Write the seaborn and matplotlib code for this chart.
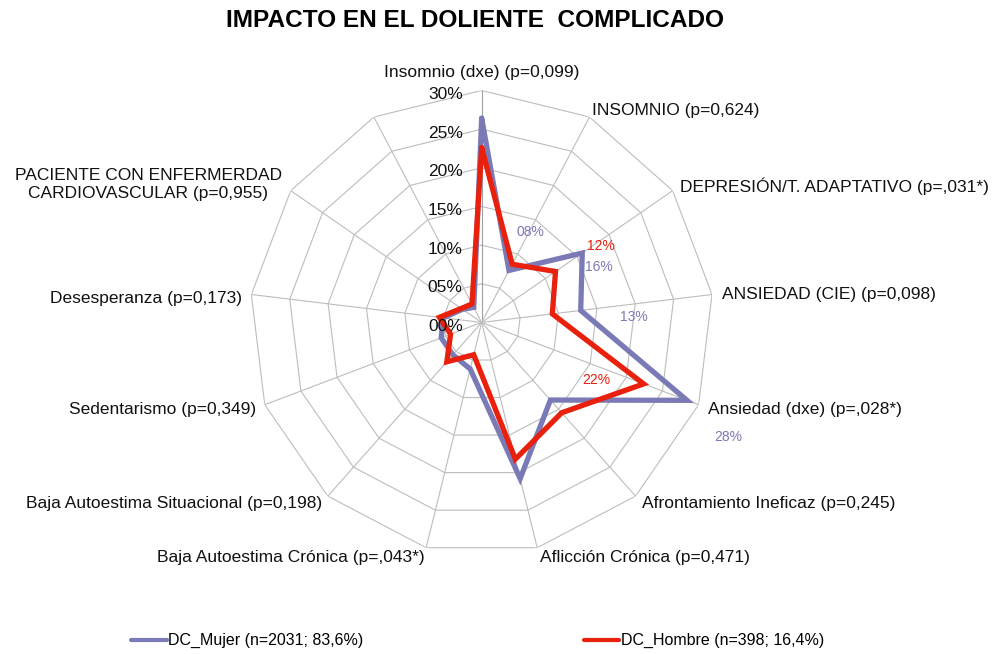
# Radar: impacto en el doliente complicado (DC_Mujer vs DC_Hombre)

import numpy as np
import pandas as pd
import matplotlib
matplotlib.use("Agg")
import matplotlib.pyplot as plt
from matplotlib.lines import Line2D
import seaborn as sns

# === DATOS ===
categorias = [
    "Insomnio (dxe) (p=0,099)",
    "INSOMNIO (p=0,624)",
    "DEPRESIÓN/T. ADAPTATIVO (p=,031*)",
    "ANSIEDAD (CIE) (p=0,098)",
    "Ansiedad (dxe) (p=,028*)",
    "Afrontamiento Ineficaz (p=0,245)",
    "Aflicción Crónica (p=0,471)",
    "Baja Autoestima Crónica (p=,043*)",
    "Baja Autoestima Situacional (p=0,198)",
    "Sedentarismo (p=0,349)",
    "Desesperanza (p=0,173)",
    "PACIENTE CON ENFERMERDAD\nCARDIOVASCULAR (p=0,955)",
    "INFARTO/ANGINA (p=0,317)",
]
dc_mujer = [26.4, 7.6, 15.8, 12.9, 28.4, 13.4, 20.8, 6.2, 5.6, 5.6, 5.0, 3.0, 2.2]
dc_hombre = [22.6, 8.5, 11.6, 9.2, 22.4, 15.6, 18.2, 4.3, 6.8, 4.3, 5.5, 3.2, 2.7]
series = ["DC_Mujer (n=2031; 83,6%)", "DC_Hombre (n=398; 16,4%)"]
niveles = [0, 5, 10, 15, 20, 25, 30]
titulo = "IMPACTO EN EL DOLIENTE  COMPLICADO"

# puntos que llevan etiqueta de valor: (serie, índice de categoría)
etiquetados = [(0, 1), (0, 2), (1, 2), (0, 3), (1, 4), (0, 4)]

# === ESTILO / POSICIONES ===
colores = ["#7a7ab6", "#e8200c"]
# desplazamiento (px) de las etiquetas de valor respecto al punto
desloc_valores = [(21, 38), (17, -14), (45, 25), (53, -7), (-47, 4), (41, -37)]
# desplazamiento (px) y alineación de los rótulos de categoría respecto al vértice
desloc_rotulos = [
    (0, 18, "center"), (3, 7, "left"), (7, 4, "left"), (10, 0, "left"),
    (9, -5, "left"), (6, -7, "left"), (3, -10, "left"), (-2, -10, "right"),
    (-6, -7, "right"), (-9, -5, "right"), (-9, -4, "right"), (-9, 6, "right"),
]

sns.set_theme(style="white")
plt.rcParams["font.family"] = ["Liberation Sans", "DejaVu Sans"]
plt.rcParams["text.color"] = "black"

n = len(categorias)
angulos = np.linspace(0, 2 * np.pi, n, endpoint=False)
ang_cerrado = np.append(angulos, 2 * np.pi)

# tabla larga para seaborn (polígono cerrado)
df = pd.concat([
    pd.DataFrame({"theta": ang_cerrado, "valor": valores + valores[:1], "serie": nombre})
    for nombre, valores in zip(series, [dc_mujer, dc_hombre])
], ignore_index=True)

fig = plt.figure(figsize=(9.95, 6.54), dpi=100)
ax = fig.add_axes([0.2509, 0.1522, 0.4664, 0.7095], projection="polar")
ax.set_theta_zero_location("N")
ax.set_theta_direction(-1)
ax.set_ylim(0, 30)

# Rejilla poligonal
for nivel in niveles[1:]:
    ax.plot(ang_cerrado, [nivel] * (n + 1), color="#bdbdbd", lw=0.8, zorder=1)
for i, ang in enumerate(angulos):
    ax.plot([ang, ang], [0, niveles[-1]], color="#a0a0a0" if i == 0 else "#bdbdbd",
            lw=0.8, zorder=1)

# Series
sns.lineplot(data=df, x="theta", y="valor", hue="serie", hue_order=series,
             palette=colores, sort=False, estimator=None, linewidth=3.8,
             legend=False, ax=ax, zorder=3)
for linha in ax.lines[-2:]:
    linha.set_solid_joinstyle("miter")

# Etiquetas del eje de valores
for nivel in niveles:
    ax.annotate(f"{nivel:02d}%", xy=(0, nivel), xytext=(-19, -4),
                textcoords="offset pixels", ha="right", va="center",
                fontsize=12.5, color="#111111", annotation_clip=False, zorder=4)

# Rótulos de categoría
for ang, texto, (dx, dy, ha) in zip(angulos, categorias, desloc_rotulos):
    ax.annotate(texto, xy=(ang, niveles[-1]), xytext=(dx, dy),
                textcoords="offset pixels", ha=ha, va="center",
                multialignment="center", fontsize=12.5, color="#111111",
                annotation_clip=False)

# Etiquetas de valor
todas = [dc_mujer, dc_hombre]
for (s, i), (dx, dy) in zip(etiquetados, desloc_valores):
    v = todas[s][i]
    ax.annotate(f"{int(round(v)):02d}%", xy=(angulos[i], v), xytext=(dx, dy),
                textcoords="offset pixels", ha="center", va="center",
                fontsize=10, color=colores[s], annotation_clip=False, zorder=5)

ax.set_xlabel("")
ax.set_ylabel("")
ax.set_axis_off()

fig.suptitle(titulo, x=0.477, y=0.968, va="center", fontsize=17.6,
             fontweight="bold", color="black")

alcas = [Line2D([], [], color=c, lw=3) for c in colores]
leg = fig.legend(alcas, series, loc="center", bbox_to_anchor=(0.48, 0.02), ncol=2,
                 frameon=False, fontsize=11.5, handlelength=2.2, handletextpad=0.1,
                 columnspacing=13.8)
for t in leg.get_texts():
    t.set_color("black")

fig.savefig("out.png", dpi=100)
plt.close(fig)
